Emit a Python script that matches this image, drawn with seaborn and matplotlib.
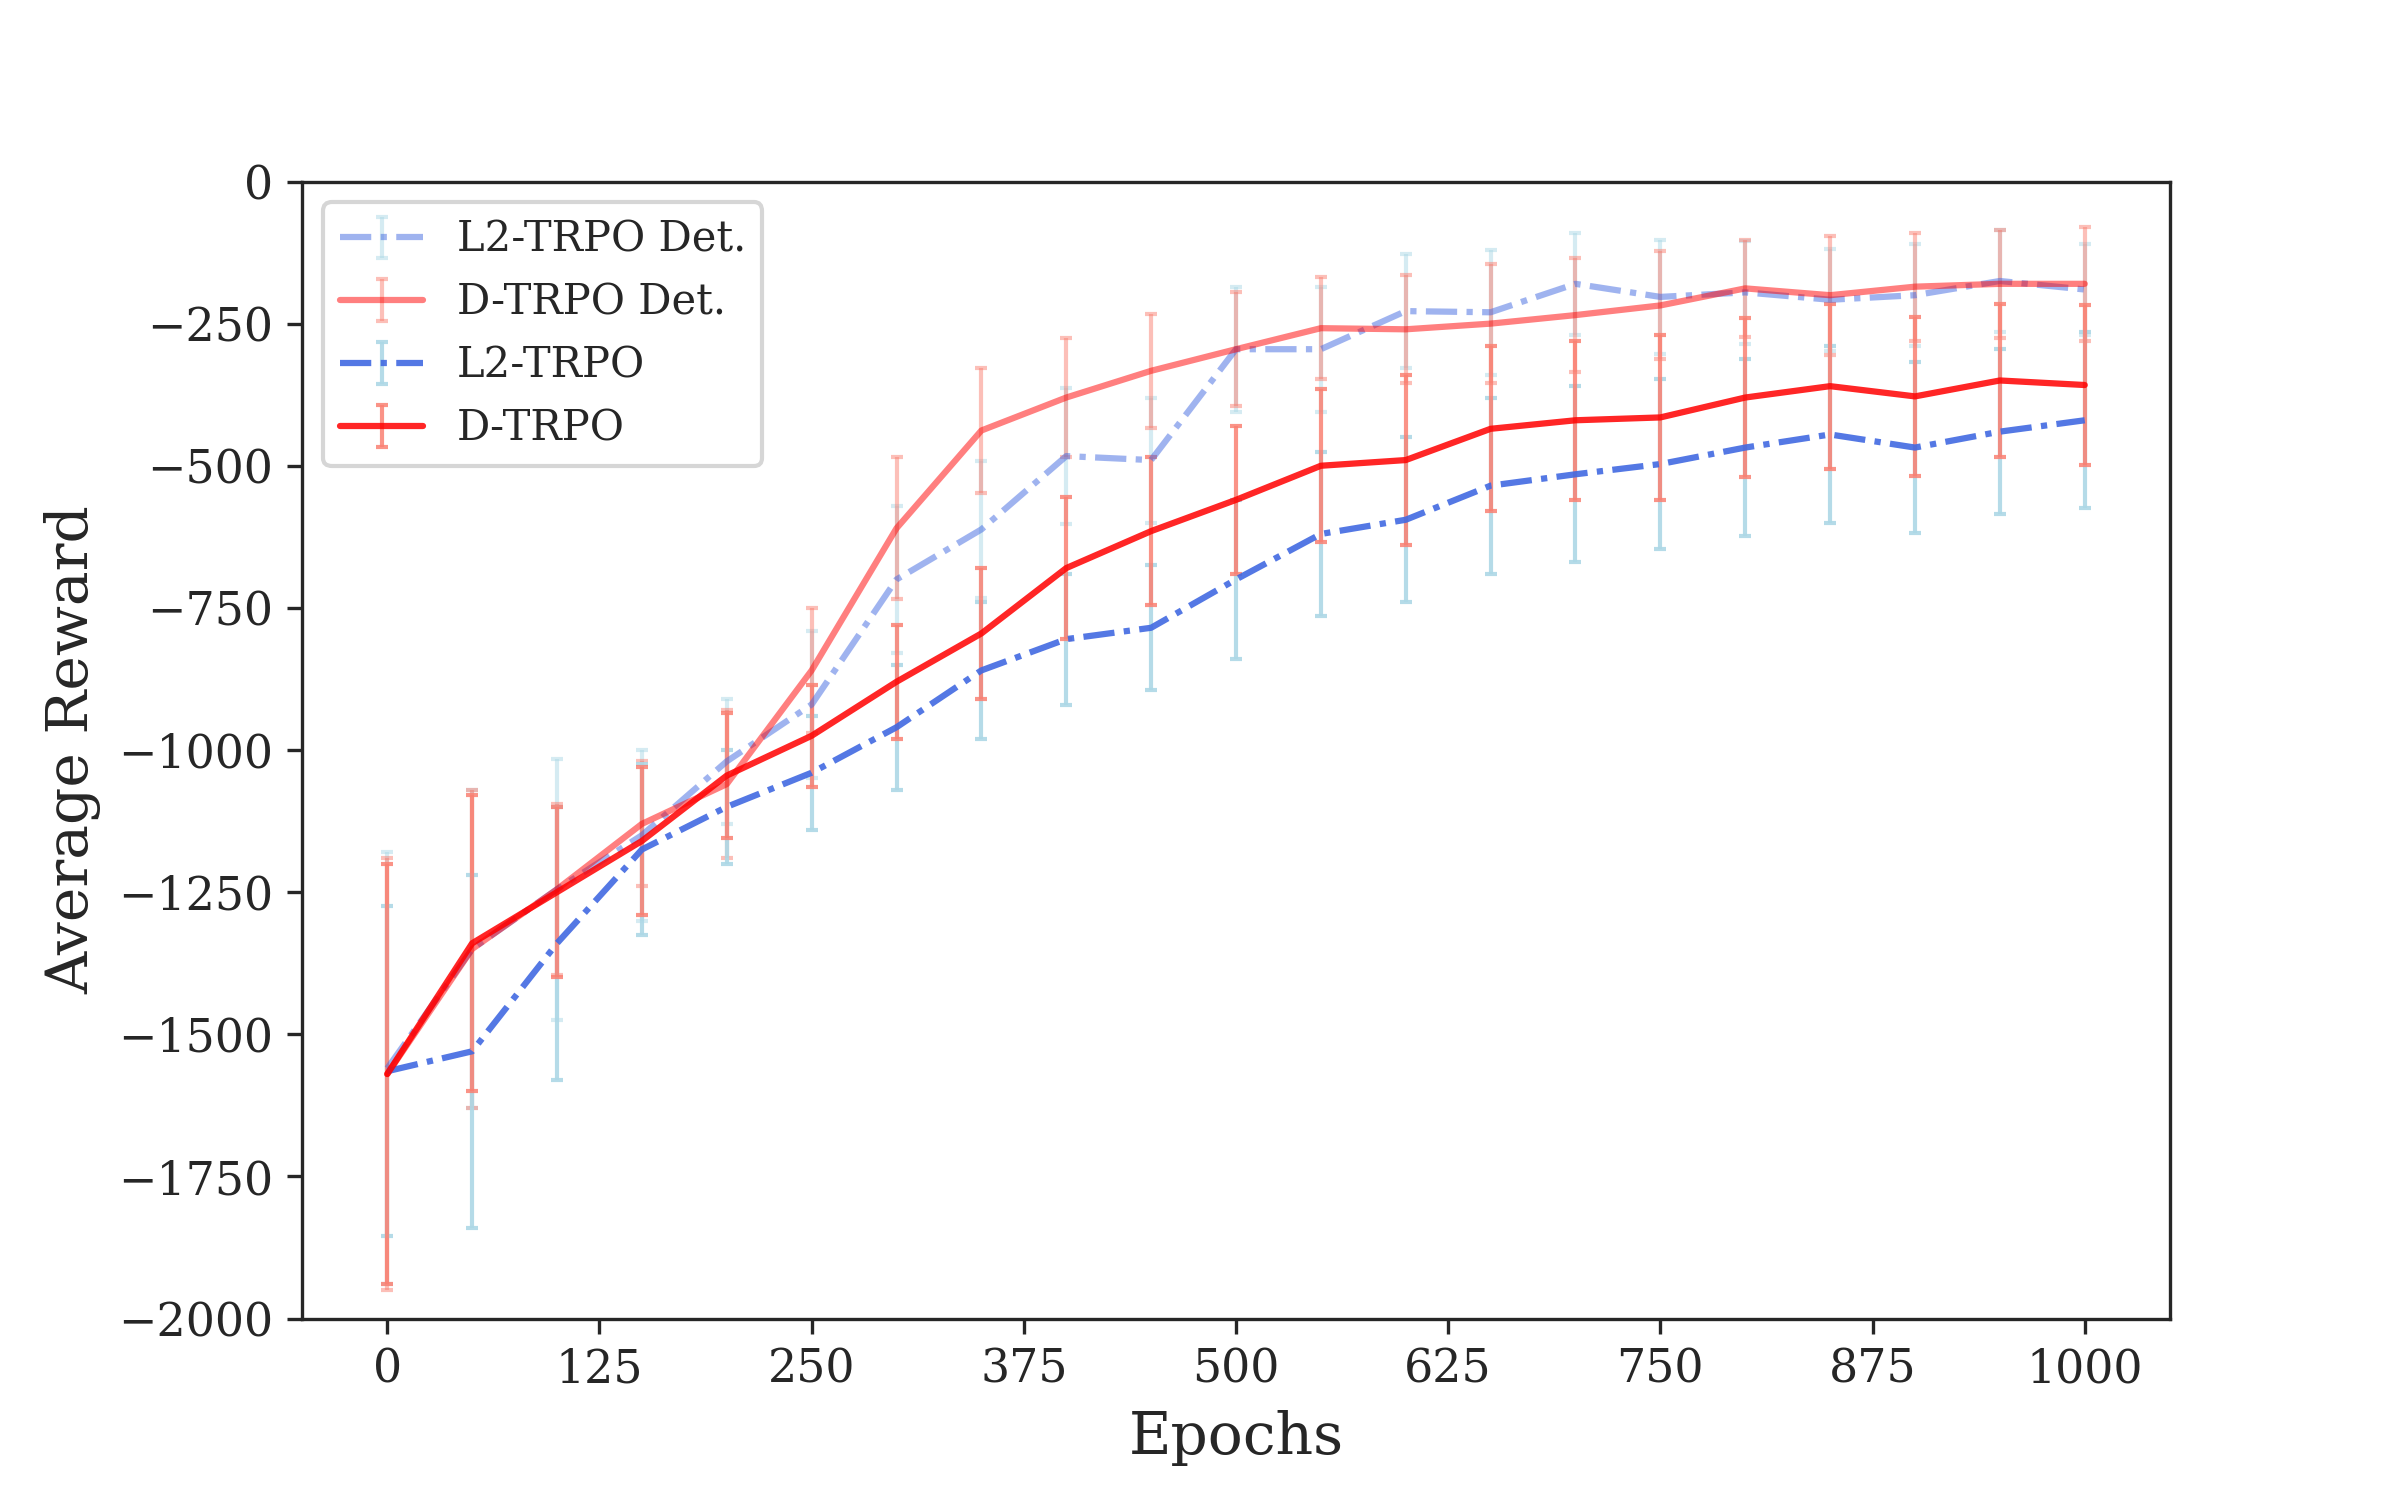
import numpy as np
import matplotlib.pyplot as plt
import seaborn as sns

sns.set_style("ticks")
plt.rcParams["font.family"] = ["DejaVu Serif"]

epochs = list(range(0, 1001, 50))

l2_det = [-1560, -1350, -1245, -1150, -1020, -920, -700, -612, -483, -490, -295,
          -295, -228, -230, -180, -203, -195, -208, -200, -175, -190]
l2_det_err = [380, 280, 230, 150, 110, 130, 130, 120, 120, 110, 110,
              110, 100, 110, 90, 100, 90, 90, 90, 90, 80]
d_det = [-1570, -1350, -1245, -1130, -1060, -860, -610, -438, -380, -333, -295,
         -258, -260, -250, -235, -218, -188, -200, -185, -180, -180]
d_det_err = [380, 280, 150, 110, 130, 110, 125, 110, 105, 100, 100,
             90, 95, 105, 100, 95, 85, 105, 95, 95, 100]
l2 = [-1565, -1530, -1340, -1175, -1100, -1040, -960, -860, -805, -785, -700,
      -620, -595, -535, -515, -497, -468, -445, -468, -440, -420]
l2_err = [290, 310, 240, 150, 100, 100, 110, 120, 115, 110, 140,
          145, 145, 155, 155, 150, 155, 155, 150, 145, 155]
d = [-1570, -1340, -1250, -1160, -1045, -975, -880, -795, -680, -615, -560,
     -500, -490, -435, -420, -415, -380, -360, -378, -350, -358]
d_err = [370, 260, 150, 130, 110, 90, 100, 115, 125, 130, 130,
         135, 150, 145, 140, 145, 140, 145, 140, 135, 140]

fig = plt.figure(figsize=(8, 5), dpi=300)
ax = fig.add_axes([0.126, 0.121, 0.778, 0.758])

series = [
    ("L2-TRPO Det.", l2_det, l2_det_err, "royalblue", "lightblue", (0, (5, 1.5, 1, 1.5)), 0.5),
    ("D-TRPO Det.", d_det, d_det_err, "red", "salmon", "-", 0.5),
    ("L2-TRPO", l2, l2_err, "royalblue", "lightblue", (0, (5, 1.5, 1, 1.5)), 0.9),
    ("D-TRPO", d, d_err, "red", "salmon", "-", 0.85),
]
for label, y, err, c, ec, ls, a in series:
    eb = ax.errorbar(epochs, y, yerr=err, color=c, ecolor=ec, linestyle=ls,
                     lw=1.5, elinewidth=1, capsize=1.5, alpha=a, label=label)

ax.set_xlim(-50, 1050)
ax.set_ylim(-2000, 0)
ax.set_xticks(range(0, 1001, 125))
ax.set_yticks(range(-2000, 1, 250))
ax.tick_params(labelsize=11)
ax.set_xlabel("Epochs", fontsize=14)
ax.set_ylabel("Average Reward", fontsize=14)
ax.legend(loc="upper left", fontsize=10)
fig.savefig("out.png")
